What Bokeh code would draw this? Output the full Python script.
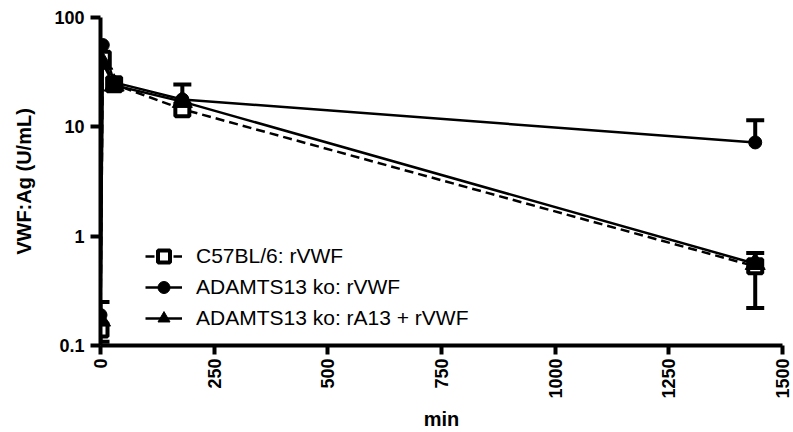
import math
from bokeh.plotting import figure
from bokeh.models import (FixedTicker, Range1d, CustomJSTickFormatter, Legend, LegendItem,
                          ColumnDataSource, Whisker, TeeHead)
from bokeh.embed import file_html
from bokeh.resources import INLINE

# ---- data ----
times = [0, 5, 30, 180, 1440]

c57_vals = [0.14, 42, 24.5, 14.5, 0.53]
c57_up = [0.14, 42, 24.5, 14.5, 0.53]
c57_lo = [0.108, 42, 24.5, 14.5, 0.22]

ko_vals = [0.19, 56, 25.5, 17.8, 7.2]
ko_up = [0.25, 56, 25.5, 24.4, 11.5]
ko_lo = [0.19, 56, 25.5, 17.8, 7.2]

koA13_vals = [0.17, 38, 24, 17, 0.56]
koA13_up = [0.17, 38, 24, 17, 0.70]
koA13_lo = [0.17, 38, 24, 17, 0.56]

series_names = ["C57BL/6: rVWF", "ADAMTS13 ko: rVWF", "ADAMTS13 ko: rA13 + rVWF"]

x_ticks = [0, 250, 500, 750, 1000, 1250, 1500]
y_ticks = [0.1, 1, 10, 100]
y_tick_labels = ["0.1", "1", "10", "100"]

x_title = "min"
y_title = "VWF:Ag (U/mL)"

FONT = "Liberation Sans"

p = figure(width=793, height=432, y_axis_type="log",
           x_range=Range1d(0, 1500), y_range=Range1d(0.1, 100),
           output_backend="svg", toolbar_location=None,
           min_border_left=100, min_border_right=11, min_border_top=17, min_border_bottom=83)
p.xgrid.visible = False
p.ygrid.visible = False
p.outline_line_color = None

for ax in (p.xaxis[0], p.yaxis[0]):
    ax.axis_line_width = 4
    ax.axis_line_color = "black"
    ax.major_tick_line_width = 4
    ax.major_tick_line_color = "black"
    ax.major_tick_in = 0
    ax.minor_tick_line_color = None
    ax.major_label_text_font = FONT
    ax.major_label_text_font_style = "bold"
    ax.major_label_text_font_size = "18px"
    ax.major_label_text_color = "black"
    ax.axis_label_text_font = FONT
    ax.axis_label_text_font_style = "bold"
    ax.axis_label_text_font_size = "20px"
    ax.axis_label_text_color = "black"

p.xaxis.ticker = FixedTicker(ticks=x_ticks)
p.xaxis.major_label_orientation = math.pi / 2
p.xaxis.major_tick_out = 9
p.xaxis.major_label_standoff = 4
p.xaxis.axis_label = x_title
p.xaxis.axis_label_standoff = 6

p.yaxis.ticker = FixedTicker(ticks=y_ticks)
p.yaxis.formatter = CustomJSTickFormatter(args=dict(vals=y_ticks, labels=y_tick_labels), code="""
let best = 0;
for (let i = 0; i < vals.length; i++) {
  if (Math.abs(Math.log10(vals[i]) - Math.log10(tick)) < Math.abs(Math.log10(vals[best]) - Math.log10(tick))) best = i;
}
return labels[best];
""")
p.yaxis.major_tick_out = 10
p.yaxis.major_label_standoff = 6
p.yaxis.axis_label = y_title
p.yaxis.axis_label_standoff = 16

def add_err(vals, up, lo):
    xs_u, u_hi, u_b = [], [], []
    xs_l, l_lo, l_b = [], [], []
    for t, v, a, b in zip(times, vals, up, lo):
        if a > v:
            xs_u.append(t); u_hi.append(a); u_b.append(v)
        if b < v:
            xs_l.append(t); l_lo.append(b); l_b.append(v)
    if xs_u:
        src = ColumnDataSource(dict(x=xs_u, upper=u_hi, lower=u_b))
        p.add_layout(Whisker(source=src, base="x", upper="upper", lower="lower",
                             line_width=4, line_color="black",
                             upper_head=TeeHead(size=18, line_width=4, line_color="black"),
                             lower_head=None))
    if xs_l:
        src = ColumnDataSource(dict(x=xs_l, upper=l_b, lower=l_lo))
        p.add_layout(Whisker(source=src, base="x", upper="upper", lower="lower",
                             line_width=4, line_color="black",
                             lower_head=TeeHead(size=18, line_width=4, line_color="black"),
                             upper_head=None))

add_err(c57_vals, c57_up, c57_lo)
add_err(ko_vals, ko_up, ko_lo)
add_err(koA13_vals, koA13_up, koA13_lo)

l1 = p.line(times, c57_vals, line_color="black", line_width=2.5, line_dash="9 5")
l2 = p.line(times, ko_vals, line_color="black", line_width=2.5)
l3 = p.line(times, koA13_vals, line_color="black", line_width=2.5)

m1 = p.scatter(times, c57_vals, marker="square", size=14, fill_color="white",
               line_color="black", line_width=4)
m3 = p.scatter(times, koA13_vals, marker="triangle", size=20, fill_color="black",
               line_color="black", line_width=1)
m2 = p.scatter(times, ko_vals, marker="circle", size=13, fill_color="black",
               line_color="black", line_width=1)

legend = Legend(items=[LegendItem(label=series_names[0], renderers=[l1, m1]),
                       LegendItem(label=series_names[1], renderers=[l2, m2]),
                       LegendItem(label=series_names[2], renderers=[l3, m3])],
                location=(45, 12), orientation="vertical",
                glyph_width=37, glyph_height=30, label_height=30, spacing=1,
                label_standoff=14, padding=0, margin=0,
                border_line_color=None, background_fill_alpha=0,
                label_text_font=FONT, label_text_font_size="21px", label_text_color="black")
p.add_layout(legend, "center")

open("out.html", "w").write(file_html(p, INLINE))
